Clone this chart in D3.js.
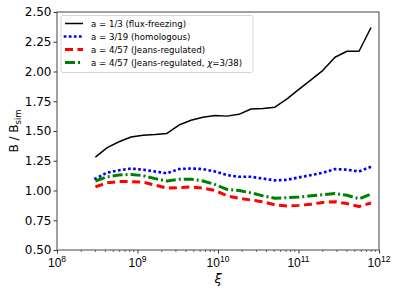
<!DOCTYPE html>
<html>
<head>
<meta charset="utf-8">
<script src="https://cdn.jsdelivr.net/npm/d3@7"></script>
<style>
body { margin: 0; background: #fff; }
svg { font-family: 'DejaVu Sans', sans-serif; }
</style>
</head>
<body>
<div class="content"></div>
<script>
var width = 399
var height = 292

var xi = [3.0e8, 4.2e8, 5.9e8, 8.3e8, 1.17e9, 1.65e9, 2.32e9, 3.28e9, 4.62e9, 6.5e9, 9.2e9, 1.29e10,
    1.82e10, 2.57e10, 3.62e10, 5.1e10, 7.2e10, 1.01e11, 1.43e11, 2.01e11, 2.84e11, 4.0e11, 5.65e11, 7.96e11]

var fluxFreezing = [1.28, 1.36, 1.41, 1.45, 1.465, 1.47, 1.48, 1.55, 1.59, 1.615, 1.63, 1.625,
    1.64, 1.685, 1.69, 1.70, 1.77, 1.85, 1.93, 2.01, 2.12, 2.17, 2.17, 2.37]
var homologous = [1.10, 1.15, 1.17, 1.185, 1.175, 1.16, 1.145, 1.18, 1.185, 1.18, 1.16, 1.13,
    1.115, 1.115, 1.10, 1.085, 1.09, 1.11, 1.13, 1.15, 1.18, 1.175, 1.16, 1.20]
var jeans = [1.03, 1.065, 1.075, 1.075, 1.07, 1.045, 1.02, 1.025, 1.03, 1.02, 1.00, 0.955,
    0.935, 0.92, 0.905, 0.88, 0.87, 0.875, 0.885, 0.90, 0.905, 0.89, 0.865, 0.895]
var jeansChi = [1.08, 1.115, 1.13, 1.135, 1.125, 1.10, 1.08, 1.095, 1.095, 1.08, 1.05, 1.01,
    1.00, 0.98, 0.955, 0.935, 0.94, 0.945, 0.955, 0.965, 0.975, 0.96, 0.93, 0.97]

var yTicks = [0.50, 0.75, 1.00, 1.25, 1.50, 1.75, 2.00, 2.25, 2.50]
var xTicks = [1e8, 1e9, 1e10, 1e11, 1e12]

var series = [
    { label: 'a = 1/3 (flux-freezing)', values: fluxFreezing, color: '#000000', width: 1.5, dash: null, cap: 'butt' },
    { label: 'a = 3/19 (homologous)', values: homologous, color: '#0000ff', width: 2.6, dash: '0.1,5', cap: 'square' },
    { label: 'a = 4/57 (Jeans-regulated)', values: jeans, color: '#ff0000', width: 3, dash: '8,4.5', cap: 'butt' },
    { label: 'a = 4/57 (Jeans-regulated, ', chi: true, values: jeansChi, color: '#008000', width: 3, dash: '10,3,2,3', cap: 'butt' }
]

var margin = { left: 57, right: 20, top: 12, bottom: 42 }

var x = d3.scaleLog()
    .domain([1e8, 1e12])
    .range([margin.left, width - margin.right])

var y = d3.scaleLinear()
    .domain([0.5, 2.5])
    .range([height - margin.bottom, margin.top])

var svg = d3.select('.content').append('svg')
    .attr('width', width)
    .attr('height', height)

// lines
var line = d3.line()
    .x(function(d) { return x(d[0]) })
    .y(function(d) { return y(d[1]) })

svg.append('g')
    .attr('class', 'lines')
    .selectAll('path')
    .data(series)
    .enter().append('path')
    .attr('d', function(s) {
        return line(s.values.map(function(v, i) { return [xi[i], v] }))
    })
    .attr('fill', 'none')
    .attr('stroke', function(s) { return s.color })
    .attr('stroke-width', function(s) { return s.width })
    .attr('stroke-dasharray', function(s) { return s.dash })
    .attr('stroke-linecap', function(s) { return s.cap })
    .attr('stroke-linejoin', 'round')

// axes
var xAxis = d3.axisBottom(x)
    .tickValues(xTicks)
    .tickSize(3.5)
    .tickFormat('')

var gx = svg.append('g')
    .attr('transform', 'translate(0,' + (height - margin.bottom) + ')')
    .call(xAxis)

var minor = []
for (var e = 8; e < 12; e++) {
    for (var k = 2; k < 10; k++) minor.push(k * Math.pow(10, e))
}
gx.selectAll('.minor')
    .data(minor)
    .enter().append('line')
    .attr('class', 'minor')
    .attr('x1', function(d) { return x(d) })
    .attr('x2', function(d) { return x(d) })
    .attr('y1', 0)
    .attr('y2', 2)
    .attr('stroke', '#000')
    .attr('stroke-width', 0.6)

var xlab = gx.selectAll('.xlab')
    .data(xTicks)
    .enter().append('text')
    .attr('class', 'xlab')
    .attr('x', function(d) { return x(d) })
    .attr('y', 17)
    .attr('text-anchor', 'middle')
    .attr('font-size', 12)
    .attr('fill', '#000')
xlab.append('tspan').text('10')
xlab.append('tspan')
    .attr('dy', -5)
    .attr('font-size', 8.5)
    .text(function(d) { return Math.round(Math.log10(d)) })

var yAxis = d3.axisLeft(y)
    .tickValues(yTicks)
    .tickSize(3.5)
    .tickFormat(d3.format('.2f'))

var gy = svg.append('g')
    .attr('transform', 'translate(' + margin.left + ',0)')
    .call(yAxis)

gy.selectAll('text')
    .attr('font-size', 12)
    .attr('font-family', 'DejaVu Sans')
    .attr('fill', '#000')
    .attr('x', -5.5)

svg.selectAll('.domain').remove()
svg.selectAll('.tick line').attr('stroke', '#000').attr('stroke-width', 0.8)

// frame
svg.append('rect')
    .attr('x', margin.left)
    .attr('y', margin.top)
    .attr('width', width - margin.left - margin.right)
    .attr('height', height - margin.top - margin.bottom)
    .attr('fill', 'none')
    .attr('stroke', '#444')
    .attr('stroke-width', 1)

// axis labels
svg.append('text')
    .attr('x', (margin.left + width - margin.right) / 2)
    .attr('y', 283)
    .attr('text-anchor', 'middle')
    .attr('font-size', 13)
    .attr('font-style', 'italic')
    .text('ξ')

var yl = svg.append('text')
    .attr('transform', 'translate(18,' + ((margin.top + height - margin.bottom) / 2) + ') rotate(-90)')
    .attr('text-anchor', 'middle')
    .attr('font-size', 12)
yl.append('tspan').text('B / B')
yl.append('tspan').attr('dy', 3).attr('font-size', 8.5).text('sim')

// legend
var legend = svg.append('g').attr('class', 'legend')
legend.append('rect')
    .attr('x', 61)
    .attr('y', 15.5)
    .attr('width', 192)
    .attr('height', 57)
    .attr('rx', 2)
    .attr('fill', '#fff')
    .attr('fill-opacity', 0.8)
    .attr('stroke', '#ccc')
    .attr('stroke-width', 0.8)

var items = legend.selectAll('.item')
    .data(series)
    .enter().append('g')
    .attr('class', 'item')
    .attr('transform', function(d, i) { return 'translate(0,' + (23.5 + i * 13) + ')' })

items.append('line')
    .attr('x1', 65)
    .attr('x2', 83)
    .attr('y1', 0)
    .attr('y2', 0)
    .attr('stroke', function(s) { return s.color })
    .attr('stroke-width', function(s) { return s.width })
    .attr('stroke-dasharray', function(s) { return s.dash })
    .attr('stroke-linecap', function(s) { return s.cap })

var lt = items.append('text')
    .attr('x', 91)
    .attr('y', 3)
    .attr('font-size', 8.6)
    .text(function(s) { return s.label })
lt.filter(function(s) { return s.chi })
    .append('tspan').attr('font-style', 'italic').text('χ')
lt.filter(function(s) { return s.chi })
    .append('tspan').text('=3/38)')
</script>
</body>
</html>
